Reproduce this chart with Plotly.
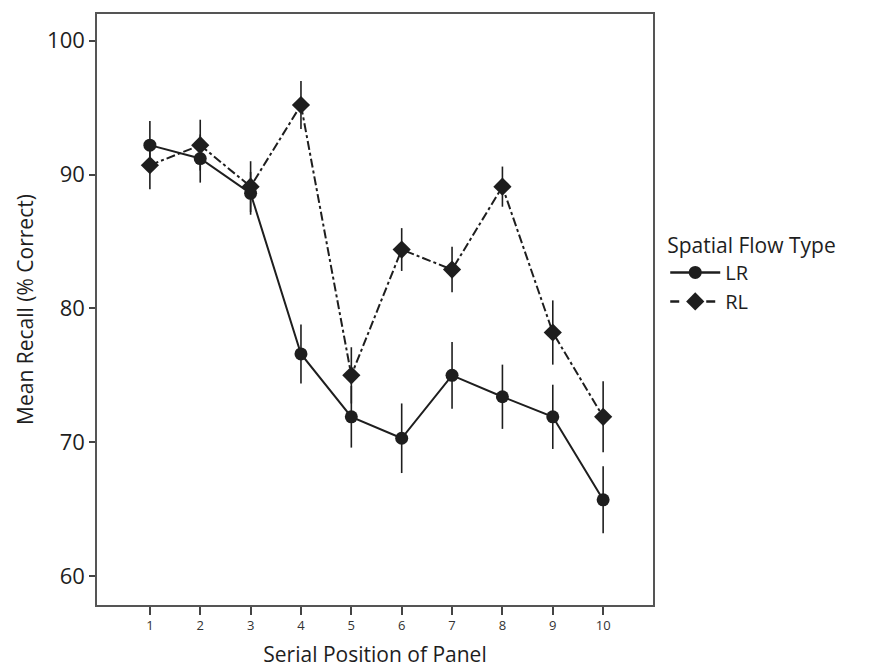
import plotly.graph_objects as go

positions = [1, 2, 3, 4, 5, 6, 7, 8, 9, 10]
lr_mean = [92.2, 91.2, 88.6, 76.6, 71.9, 70.3, 75.0, 73.4, 71.9, 65.7]
lr_err = [1.8, 1.8, 1.6, 2.2, 2.3, 2.6, 2.5, 2.4, 2.4, 2.5]
rl_mean = [90.7, 92.2, 89.1, 95.2, 75.0, 84.4, 82.9, 89.1, 78.2, 71.9]
rl_err = [1.8, 1.9, 1.9, 1.8, 2.1, 1.6, 1.7, 1.5, 2.4, 2.65]
y_ticks = [60, 70, 80, 90, 100]

FONT = "Open Sans"
INK = "#1e1e1e"

fig = go.Figure()
fig.add_trace(go.Scatter(
    x=positions, y=lr_mean, mode="lines+markers", name="LR", showlegend=False,
    line=dict(color=INK, width=2, dash="solid"),
    marker=dict(symbol="circle", size=13, color=INK),
    error_y=dict(type="data", array=lr_err, color=INK, thickness=1.6, width=0),
))
fig.add_trace(go.Scatter(
    x=positions, y=rl_mean, mode="lines+markers", name="RL", showlegend=False,
    line=dict(color=INK, width=2, dash="dashdot"),
    marker=dict(symbol="diamond", size=14, color=INK),
    error_y=dict(type="data", array=rl_err, color=INK, thickness=1.6, width=0),
))
# legend-only entries
fig.add_trace(go.Scatter(
    x=[None], y=[None], mode="lines+markers", name="LR",
    line=dict(color=INK, width=2.5, dash="solid"),
    marker=dict(symbol="circle", size=13, color=INK),
))
fig.add_trace(go.Scatter(
    x=[None], y=[None], mode="lines+markers", name="RL",
    line=dict(color=INK, width=2.5, dash="dash"),
    marker=dict(symbol="diamond", size=14, color=INK),
))

fig.update_layout(
    width=882, height=672,
    margin=dict(l=89, r=237, t=4, b=75),
    paper_bgcolor="white", plot_bgcolor="white",
    font=dict(family=FONT, color=INK),
    legend=dict(
        x=1.022, y=0.642, xanchor="left", yanchor="top",
        title=dict(text="Spatial Flow Type", font=dict(size=21, family=FONT)),
        font=dict(size=20, family=FONT),
        bgcolor="rgba(0,0,0,0)", itemwidth=50, tracegroupgap=0,
    ),
)
fig.update_xaxes(
    range=[-0.05, 10.99], tickmode="array", tickvals=positions,
    ticktext=[str(p) for p in positions],
    tickfont=dict(size=13, family=FONT, color="#333"), ticks="outside", ticklen=8, tickwidth=1.5,
    tickcolor="#444", showgrid=False, zeroline=False,
    showline=True, linecolor="#555", linewidth=1.5, mirror=True,
    title=dict(text="Serial Position of Panel", font=dict(size=21, family=FONT), standoff=14),
)
fig.update_yaxes(
    range=[57.84, 102.0], tickmode="array", tickvals=y_ticks,
    tickfont=dict(size=22, family=FONT), ticks="outside", ticklen=6, tickwidth=1.5,
    tickcolor="#444", showgrid=False, zeroline=False,
    showline=True, linecolor="#555", linewidth=1.5, mirror=True,
    title=dict(text="Mean Recall (% Correct)", font=dict(size=21, family=FONT), standoff=8),
)

fig.write_html("out.html")
